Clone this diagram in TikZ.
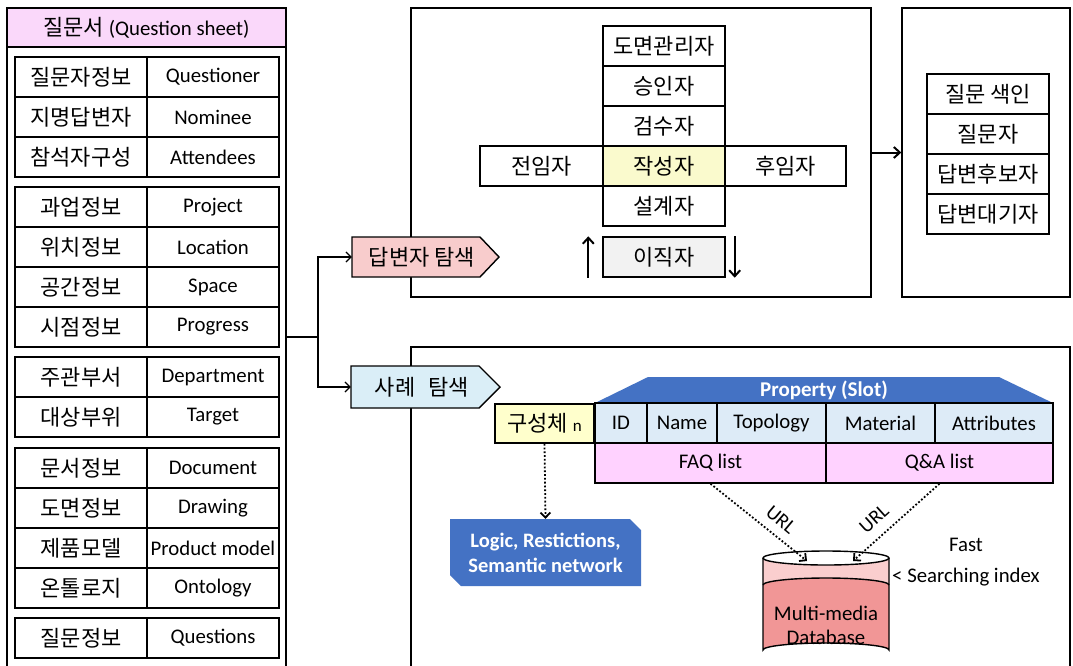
\documentclass[tikz,border=0pt]{standalone}
\usepackage{fontspec}
\setmainfont{Carlito}
\newfontfamily\krfont{Noto Sans CJK KR}
\usetikzlibrary{arrows.meta,calc}

\definecolor{sheetpink}{RGB}{250,216,250}
\definecolor{answerpink}{RGB}{248,204,204}
\definecolor{casecyan}{RGB}{218,238,247}
\definecolor{authoryellow}{RGB}{250,250,205}
\definecolor{leftgray}{RGB}{242,242,242}
\definecolor{partyellow}{RGB}{255,255,204}
\definecolor{slotblue}{RGB}{221,235,247}
\definecolor{listpink}{RGB}{255,210,255}
\definecolor{deepblue}{RGB}{68,114,196}
\definecolor{dbtop}{RGB}{250,206,206}
\definecolor{dbbody}{RGB}{241,150,150}

\begin{document}
\begin{tikzpicture}[x=1pt,y=-1pt,
  every node/.style={font=\fontsize{20.8}{24}\selectfont, inner sep=0pt},
  frame/.style={draw, line width=1.4pt},
  cell/.style={frame, minimum height=40, minimum width=132},
  kr/.style={font=\fontsize{22}{24}\selectfont\krfont},
  link/.style={line width=1.2pt, -{Straight Barb[length=5pt,width=10pt]}},
  bigarrow/.style={line width=2pt, -{Straight Barb[length=6pt,width=11pt]}},
  dotlink/.style={line width=1.8pt, dotted, -{Straight Barb[length=5pt,width=10pt]}},
  urltag/.style={font=\fontsize{20}{22}\selectfont}
]
\useasboundingbox (0,0) rectangle (1073,665);
\fill[white] (0,0) rectangle (1073,665);
\clip (0,0) rectangle (1073,665);

% ---------- question sheet ----------
\node[frame, minimum width=279, minimum height=660] (panel) at (146.5,338) {};
\node[frame, fill=sheetpink, minimum width=279, minimum height=39] (head) at (146.5,27.5)
  {{\krfont\fontsize{22}{24}\selectfont 질문서} (Question sheet)};

\foreach \y/\k/\e/\n in {
  57/질문자정보/Questioner/1, 97/지명답변자/Nominee/2, 137/참석자구성/Attendees/3,
  187/과업정보/Project/4, 227/위치정보/Location/5, 267/공간정보/Space/6, 307/시점정보/Progress/7,
  357/주관부서/Department/8, 397/대상부위/Target/9,
  448/문서정보/Document/10, 488/도면정보/Drawing/11, 528/제품모델/Product model/12, 568/온톨로지/Ontology/13,
  618/질문정보/Questions/14}{
  \node[cell, kr] (k\n) at (81,\y+20) {\k};
  \node[cell] (e\n) at (213,\y+20) {\e};
}

% ---------- answerer search panel ----------
\node[frame, minimum width=460, minimum height=289] (topbox) at (641,152.5) {};
\node[cell, kr, minimum width=122] (mgr) at (664,46) {도면관리자};
\node[cell, kr, minimum width=122] (appr) at (664,86) {승인자};
\node[cell, kr, minimum width=122] (insp) at (664,126) {검수자};
\node[cell, kr, minimum width=123] (prev) at (541.5,166) {전임자};
\node[cell, kr, minimum width=121] (next) at (785.5,166) {후임자};
\node[cell, kr, minimum width=122, fill=authoryellow] (auth) at (664,166) {작성자};
\node[cell, kr, minimum width=122] (dsgn) at (664,206) {설계자};
\node[cell, kr, minimum width=122, fill=leftgray] (quit) at (664,257) {이직자};
\draw[bigarrow] ([xshift=-14pt]quit.south west) -- ([xshift=-14pt]quit.north west);
\draw[bigarrow] ([xshift=9pt]quit.north east) -- ([xshift=9pt]quit.south east);

% ---------- question index ----------
\node[frame, minimum width=168, minimum height=289] (rightbox) at (986,152.5) {};
\node[cell, kr, minimum width=122] (qidx) at (988,94) {질문 색인};
\node[cell, kr, minimum width=122] (qman) at (988,134) {질문자};
\node[cell, kr, minimum width=122] (cand) at (988,174) {답변후보자};
\node[cell, kr, minimum width=122] (wait) at (988,214) {답변대기자};
\draw[bigarrow] (topbox.east) -- (rightbox.west);

% ---------- case search panel ----------
\node[frame, minimum width=659, minimum height=321] (botbox) at (740.5,507.5) {};

% search tags
\draw[frame, fill=answerpink] (352,237) -- (480,237) -- (499,257) -- (480,277) -- (352,277) -- cycle;
\node[kr, minimum width=140, minimum height=40] (srch1) at (422,257) {답변자 탐색};
\draw[frame, fill=casecyan] (351,366) -- (479,366) -- (500,387) -- (479,408) -- (351,408) -- cycle;
\node[kr, minimum width=142, minimum height=42] (srch2) at (422,387) {사례\hspace{0.6em}탐색};

\coordinate (split) at (318,337);
\draw[line width=1.2pt] (panel.east |- split) -- (split);
\draw[link] (split) |- (srch1.west);
\draw[link] (split) |- (srch2.west);

% component and its property slots
\node[frame, fill=partyellow, minimum width=99, minimum height=39] (part) at (544.5,423.5)
  {{\krfont\fontsize{22}{24}\selectfont 구성체} {\fontsize{17}{18}\selectfont n}};
\fill[deepblue] (595,403) -- (648,377) -- (999,377) -- (1053,403) -- cycle;
\node[text=white, font=\fontsize{21}{24}\selectfont\bfseries] (prop) at (824,390) {Property (Slot)};
\node[cell, fill=slotblue, minimum width=52] (sid) at (621,423) {ID};
\node[cell, fill=slotblue, minimum width=70] (sname) at (682,423) {Name};
\node[cell, fill=slotblue, minimum width=109] (stopo) at (771.5,423) {Topology};
\node[cell, fill=slotblue, minimum width=109] (smat) at (880.5,423) {Material};
\node[cell, fill=slotblue, minimum width=118] (sattr) at (994,423) {Attributes};
\node[cell, fill=listpink, minimum width=231] (faq) at (710.5,463) {FAQ list};
\node[cell, fill=listpink, minimum width=227] (qa) at (939.5,463) {Q\&A list};

% semantic layer
\fill[deepblue] (450,519) -- (630,519) -- (641,530) -- (641,586) -- (461,586) -- (450,575) -- cycle;
\node[text=white, font=\fontsize{20.5}{25}\selectfont\bfseries, align=center,
      minimum width=191, minimum height=67] (logic) at (545.5,552.5)
  {Logic, Restictions,\\Semantic network};
\draw[dotlink] (part.south) -- (logic.north);

% multimedia database
\fill[dbtop] (763,558) -- (763,650) arc[start angle=180,end angle=360,x radius=63,y radius=7]
  -- (889,558) arc[start angle=0,end angle=180,x radius=63,y radius=7] -- cycle;
\fill[dbbody] (763,585) arc[start angle=180,end angle=360,x radius=63,y radius=7]
  -- (889,650) arc[start angle=0,end angle=-180,x radius=63,y radius=7] -- cycle;
\draw[line width=1.4pt] (763,585) arc[start angle=180,end angle=360,x radius=63,y radius=7];
\draw[line width=1.4pt] (763,558) -- (763,650) arc[start angle=180,end angle=360,x radius=63,y radius=7] -- (889,558);
\draw[line width=1.4pt] (826,558) ellipse[x radius=63,y radius=7];
\node[align=center, font=\fontsize{20.8}{24}\selectfont] (db) at (826,625) {Multi-media\\Database};
\coordinate (dbin1) at (807,561);
\coordinate (dbin2) at (853,561);

\draw[dotlink] (faq.south) -- (dbin1);
\draw[dotlink] (qa.south) -- (dbin2);
\node[urltag, rotate=-40] (url1) at (781,520) {URL};
\node[urltag, rotate=42] (url2) at (874,519) {URL};

\node (fast) at (966,545) {Fast};
\node[anchor=west] (sidx) at (892,577) {< Searching index};
\end{tikzpicture}
\end{document}
